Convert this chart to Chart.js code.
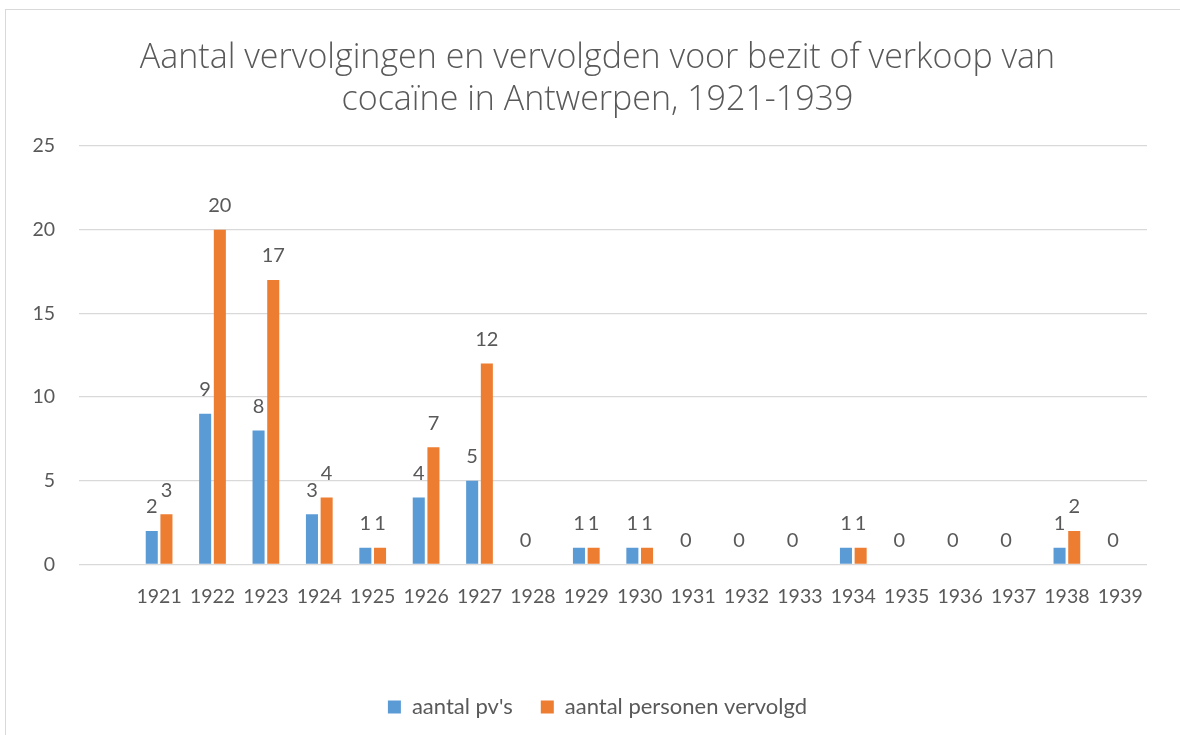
<!DOCTYPE html>
<html>
<head>
<meta charset="utf-8">
<script src="https://cdn.jsdelivr.net/npm/chart.js@4"></script>
<style>
  html, body { margin: 0; padding: 0; background: #ffffff; overflow: hidden; }
  #wrap {
    position: absolute; left: 5px; top: 9px;
    width: 1185px; height: 740px;
    border: 1px solid #d9d9d9; box-sizing: border-box;
  }
</style>
</head>
<body>
<div id="wrap"><canvas id="cocaChart"></canvas></div>
<script>
// jaren (eerste categorie is leeg, zoals in het origineel)
const years = ['', '1921', '1922', '1923', '1924', '1925', '1926', '1927', '1928', '1929', '1930',
  '1931', '1932', '1933', '1934', '1935', '1936', '1937', '1938', '1939'];
const pvCounts = [null, 2, 9, 8, 3, 1, 4, 5, 0, 1, 1, 0, 0, 0, 1, 0, 0, 0, 1, 0];
const personCounts = [null, 3, 20, 17, 4, 1, 7, 12, null, 1, 1, null, null, null, 1, null, null, null, 2, null];
const seriesNames = ["aantal pv's", 'aantal personen vervolgd'];
const yTicks = [0, 5, 10, 15, 20, 25];

const textColor = '#595959';
const gridColor = '#d9d9d9';
const fontFamily = "Lato, 'Open Sans', sans-serif";

// waarden boven de staven
const valueLabels = {
    id: 'valueLabels',
    afterDatasetsDraw: (chart) => {
        const { ctx } = chart;
        ctx.save();
        ctx.font = "20px " + fontFamily;
        ctx.fillStyle = textColor;
        ctx.textAlign = 'center';
        ctx.textBaseline = 'middle';
        chart.data.datasets.forEach((ds, di) => {
            const meta = chart.getDatasetMeta(di);
            meta.data.forEach((bar, i) => {
                const v = ds.data[i];
                if (v === null || v === undefined) return;
                ctx.fillText(String(v), bar.x, bar.y - 24);
            });
        });
        ctx.restore();
    }
};

new Chart(document.getElementById('cocaChart'), {
    type: 'bar',
    data: {
        labels: years,
        datasets: [
            { label: seriesNames[0], data: pvCounts, backgroundColor: '#5b9bd5', categoryPercentage: 0.55, barPercentage: 0.82 },
            { label: seriesNames[1], data: personCounts, backgroundColor: '#ed7d31', categoryPercentage: 0.55, barPercentage: 0.82 }
        ]
    },
    options: {
        responsive: true,
        maintainAspectRatio: false,
        animation: false,
        layout: { padding: { left: 0, right: 0, top: 0, bottom: 20 } },
        plugins: {
            title: {
                display: true,
                text: ['Aantal vervolgingen en vervolgden voor bezit of verkoop van', 'cocaïne in Antwerpen, 1921-1939'],
                color: textColor,
                font: { family: "'Open Sans', Lato, sans-serif", size: 34, weight: '300', lineHeight: 1.235 },
                padding: { top: 27, bottom: 25 }
            },
            legend: {
                position: 'bottom',
                labels: {
                    color: textColor,
                    font: { family: fontFamily, size: 22 },
                    boxWidth: 13,
                    boxHeight: 13,
                    padding: 28
                }
            },
            tooltip: { enabled: false }
        },
        scales: {
            x: {
                grid: { display: false, drawTicks: false },
                border: { display: false },
                ticks: { color: textColor, font: { family: fontFamily, size: 19.5 }, padding: 21, maxRotation: 0, autoSkip: false },
                afterFit: (scale) => { scale.height = 103.5; }
            },
            y: {
                min: 0,
                max: 25,
                afterBuildTicks: (scale) => { scale.ticks = yTicks.map(v => ({ value: v })); },
                grid: { color: gridColor, drawTicks: false, lineWidth: 1.3 },
                border: { display: false },
                ticks: { color: textColor, font: { family: fontFamily, size: 19.5 }, padding: 24 },
                afterFit: (scale) => { scale.width = 73; }
            },
            // lege ruimte rechts van het plotgebied
            gap: {
                position: 'right',
                grid: { display: false, drawTicks: false },
                border: { display: false },
                ticks: { display: false },
                afterFit: (scale) => { scale.width = 42; }
            }
        }
    },
    plugins: [valueLabels]
});
</script>
</body>
</html>
